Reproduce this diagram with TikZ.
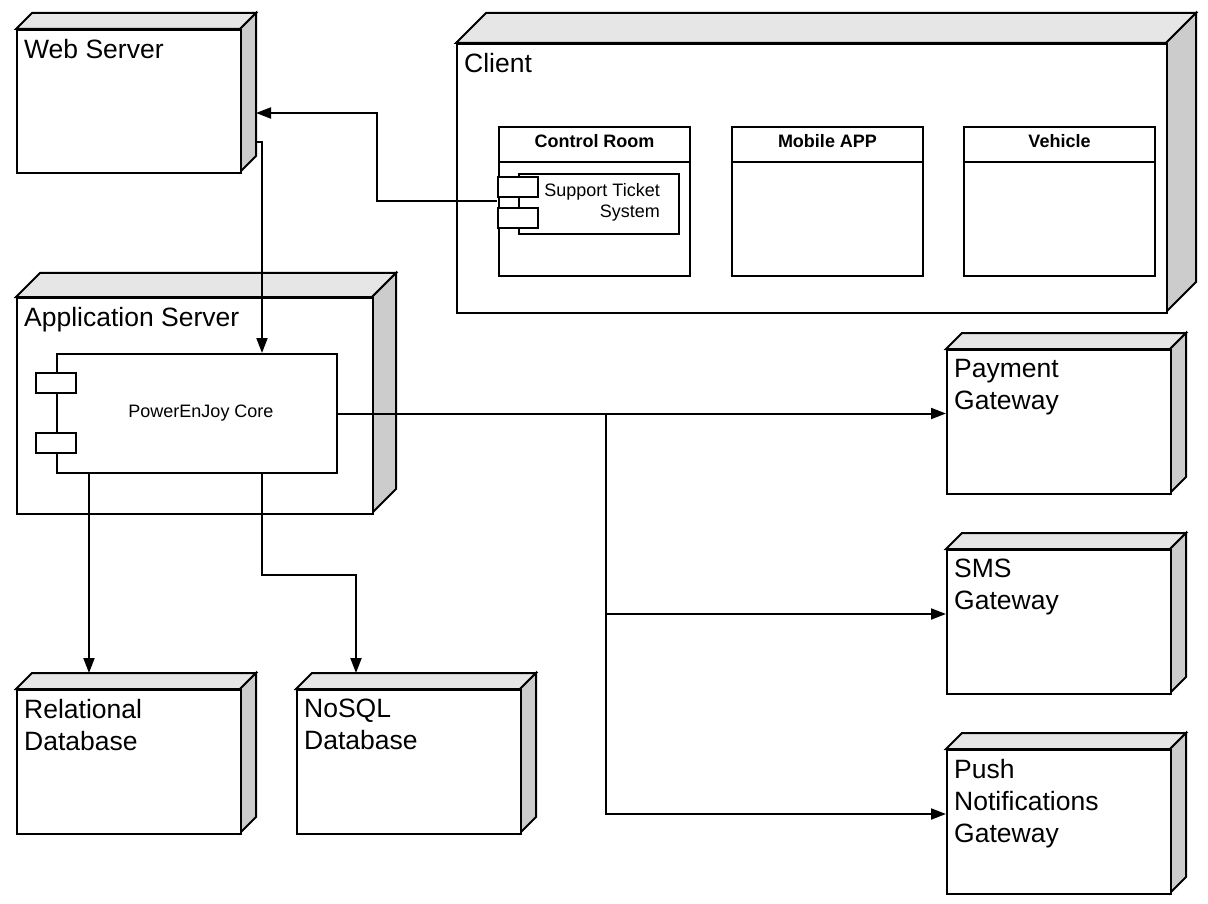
\documentclass[tikz,border=0pt]{standalone}
\usepackage{fontspec}
\setmainfont{Liberation Sans}
\usepackage{xcolor}
\definecolor{nodeTop}{HTML}{E6E6E6}
\definecolor{nodeSide}{HTML}{CCCCCC}
\usepackage{tikz}
\usetikzlibrary{arrows.meta}

% 3D deployment node: name, left, top, right, bottom, depth, label
\newcommand\devicenode[7]{%
  \filldraw[box, fill=nodeTop] (#2,#3) -- ++(#6,-#6) -- ({#4+#6},{#3-#6}) -- (#4,#3) -- cycle;
  \filldraw[box, fill=nodeSide] (#4,#3) -- ({#4+#6},{#3-#6}) -- ({#4+#6},{#5-#6}) -- (#4,#5) -- cycle;
  \node[box, draw, fill=white, anchor=north west, inner sep=0pt,
        minimum width={#4-#2}, minimum height={#5-#3}] (#1) at (#2,#3) {};
  \coordinate (#1-back) at ({#2+#6},{#3-#6});
  \node[devlabel] (#1-lbl) at ({#2+8},{#3+10}) {#7};
}

\begin{document}
\begin{tikzpicture}[x=1pt, y=-1pt,
    >={Triangle[length=15pt,width=11pt]},
    box/.style={line width=2pt},
    conn/.style={line width=2pt, ->},
    devlabel/.style={anchor=north west, inner sep=0pt, align=left,
      font=\fontsize{26.5}{32}\selectfont},
    compbox/.style={box, draw, fill=white, anchor=north west, inner sep=0pt},
    portbox/.style={box, draw, fill=white, inner sep=0pt,
      minimum width=40, minimum height=20},
    hdr/.style={anchor=base, inner sep=0pt, font=\fontsize{18}{21}\selectfont\bfseries},
    comptext/.style={inner sep=0pt, font=\fontsize{18}{21}\selectfont}]
  \useasboundingbox (0,0) rectangle (1208,904);

  % deployment nodes
  \devicenode{ws}{16}{29}{240}{172}{16}{Web Server}
  \devicenode{client}{456}{43}{1166}{312}{30}{Client}
  \devicenode{as}{16}{297}{372}{513}{24}{Application Server}
  \devicenode{pay}{946}{349}{1170}{493}{16}{Payment\\Gateway}
  \devicenode{sms}{946}{549}{1170}{693}{16}{SMS\\Gateway}
  \devicenode{push}{946}{749}{1170}{893}{16}{Push\\Notifications\\Gateway}
  \devicenode{rdb}{16}{689}{240}{833}{16}{Relational\\Database}
  \devicenode{nosql}{296}{689}{520}{833}{16}{NoSQL\\Database}

  % client compartments
  \foreach \nm/\x/\t in {croom/498/Control Room, mapp/731/Mobile APP, veh/963/Vehicle} {
    \node[compbox, minimum width=191, minimum height=149] (\nm) at (\x,126) {};
    \draw[box] ([yshift=-36pt]\nm.north west) -- ([yshift=-36pt]\nm.north east);
    \node[hdr] (\nm-t) at ([yshift=-22pt]\nm.north) {\t};
  }

  % components
  \node[compbox, minimum width=160, minimum height=60] (sts) at (518,173) {};
  \node[comptext, anchor=north east, align=right] (sts-t) at (660,183) {Support Ticket\\System};
  \node[portbox] (sts-p1) at (518,187.5) {};
  \node[portbox] (sts-p2) at (518,218) {};

  \node[compbox, minimum width=280, minimum height=119] (core) at (56,353) {};
  \node[comptext, anchor=base] (core-t) at (201,417) {PowerEnJoy Core};
  \node[portbox] (core-p1) at (56,383) {};
  \node[portbox] (core-p2) at (56,443) {};

  % connectors
  \coordinate (ws-in) at (256,113);
  \coordinate (ws-out) at (256,142);
  \coordinate (fork) at (606,413);
  \draw[conn] ([yshift=3pt]sts.west -| sts-p1.west) -- ++(-120,0) |- (ws-in);
  \draw[conn] (ws-out) -| ([xshift=65pt]core.north);
  \draw[conn] (core.east) -- (core.east -| pay.west);
  \draw[conn] (fork) |- ([yshift=8pt]sms.west);
  \draw[conn] (fork) |- ([yshift=8pt]push.west);
  \draw[conn] ([xshift=-108pt]core.south) -- ([xshift=-108pt]core.south |- rdb-back);
  \draw[conn] ([xshift=65pt]core.south) -- ++(0,101) -| ([xshift=44pt]nosql-back);
\end{tikzpicture}
\end{document}
